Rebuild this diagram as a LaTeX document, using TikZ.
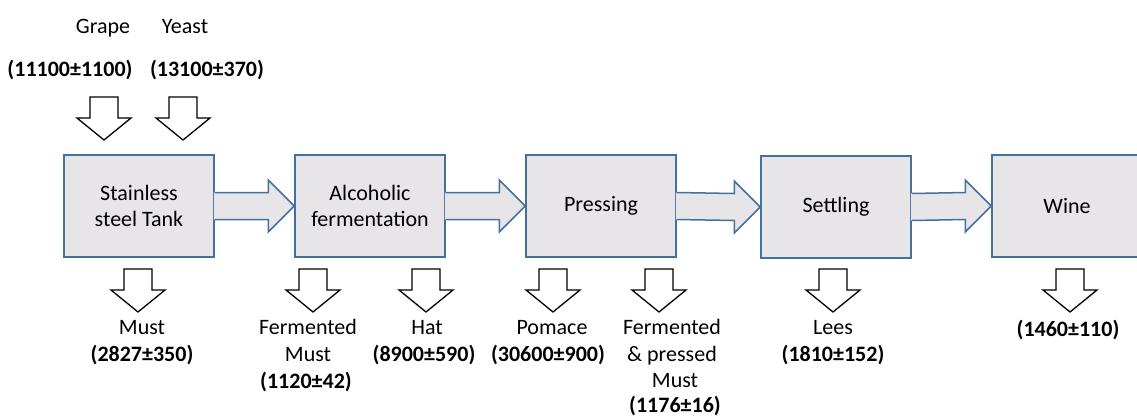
\documentclass[tikz,border=0pt]{standalone}
\usepackage{fontspec}
\setmainfont{Carlito}
\usetikzlibrary{calc}
\definecolor{stageblue}{RGB}{65,113,156}
\definecolor{stagegray}{RGB}{231,229,232}
\tikzset{
  stage/.style={draw=stageblue,fill=stagegray,line width=1.5pt,minimum width=150pt,minimum height=102pt,inner sep=0pt,align=center},
  flow/.style={draw=stageblue,line width=1.5pt,line join=miter},
  hollow/.style={draw=black,fill=white,line width=1.3pt,line join=miter},
  lbl/.style={anchor=base,inner sep=0pt},
  val/.style={anchor=base,inner sep=0pt,font=\fontsize{22}{26.5}\selectfont\bfseries}
}
% hollow arrow pointing down: x of tip, y of shaft top
\newcommand{\hollowarrow}[2]{%
  \draw[hollow] (#1-14,#2) -- (#1+14,#2) -- (#1+14,#2+21) -- (#1+27,#2+21) -- (#1,#2+43)
    -- (#1-27,#2+21) -- (#1-14,#2+21) -- cycle;}
% block arrow from one stage to the next
\newcommand{\flowarrow}[2]{%
  \fill[stagegray] ($(#1.east)+(-1,-13.5)$) -- ($(#2.west)+(-26,-13.5)$) -- ($(#2.west)+(-26,-26)$) -- (#2.west)
    -- ($(#2.west)+(-26,26)$) -- ($(#2.west)+(-26,13.5)$) -- ($(#1.east)+(-1,13.5)$) -- cycle;
  \draw[flow] ($(#1.east)+(0,-13.5)$) -- ($(#2.west)+(-26,-13.5)$) -- ($(#2.west)+(-26,-26)$) -- (#2.west)
    -- ($(#2.west)+(-26,26)$) -- ($(#2.west)+(-26,13.5)$) -- ($(#1.east)+(0,13.5)$);}

\begin{document}
\begin{tikzpicture}[x=1pt,y=-1pt,font=\fontsize{22}{26.5}\selectfont]
\useasboundingbox (0,0) rectangle (1137,416);
\clip (0,0) rectangle (1137,416);

% stages
\node[stage] (tank) at (139,206) {Stainless\\steel Tank};
\node[stage] (ferm) at (370,206) {Alcoholic\\fermentation};
\node[stage] (press) at (601,206) {Pressing};
\node[stage] (settle) at (836,207) {Settling};
\node[stage] (wine) at (1067,206) {Wine};

\flowarrow{tank}{ferm}
\flowarrow{ferm}{press}
\flowarrow{press}{settle}
\flowarrow{settle}{wine}

% inputs
\node[lbl] (grape) at (103,33) {Grape};
\node[lbl] (yeast) at (185,33) {Yeast};
\node[val] (grapeval) at (70,76) {(11100±1100)};
\node[val] (yeastval) at (207,76) {(13100±370)};
\hollowarrow{104}{97}
\hollowarrow{183}{97}

% outputs
\hollowarrow{138}{269}
\hollowarrow{313}{269}
\hollowarrow{426}{269}
\hollowarrow{553}{269}
\hollowarrow{659}{269}
\hollowarrow{833}{269}
\hollowarrow{1070}{269}

\node[lbl] (must) at (142,334) {Must};
\node[val] (mustval) at (142,361) {(2827±350)};
\node[lbl] (fmust) at (308,334) {Fermented};
\node[lbl] (fmust2) at (308,361) {Must};
\node[val] (fmustval) at (306,388) {(1120±42)};
\node[lbl] (hat) at (427,334) {Hat};
\node[val] (hatval) at (424,361) {(8900±590)};
\node[lbl] (pomace) at (552,334) {Pomace};
\node[val] (pomaceval) at (548,361) {(30600±900)};
\node[lbl] (pmust) at (672,334) {Fermented};
\node[lbl] (pmust2) at (672,361) {\& pressed};
\node[lbl] (pmust3) at (675,387) {Must};
\node[val] (pmustval) at (675,412) {(1176±16)};
\node[lbl] (lees) at (833,334) {Lees};
\node[val] (leesval) at (833,361) {(1810±152)};
\node[val] (wineval) at (1068,336) {(1460±110)};

\end{tikzpicture}
\end{document}
